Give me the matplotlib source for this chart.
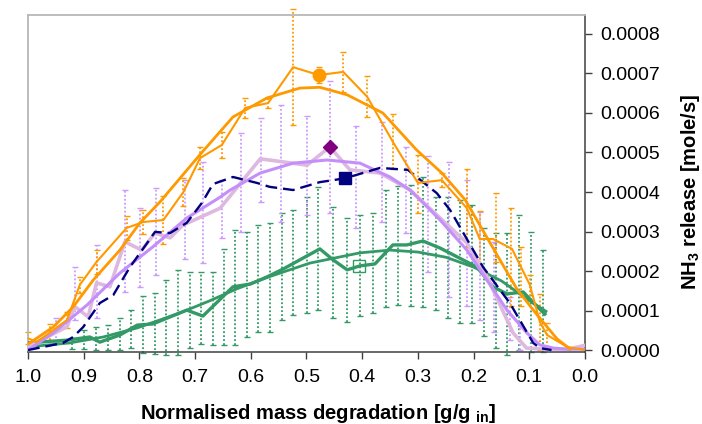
import numpy as np
import matplotlib
matplotlib.use("Agg")
import matplotlib.pyplot as plt
from matplotlib.ticker import FuncFormatter, MultipleLocator

plt.rcParams['font.family'] = ['Liberation Sans', 'DejaVu Sans']
plt.rcParams['mathtext.fontset'] = 'custom'
plt.rcParams['mathtext.rm'] = 'Liberation Sans'
plt.rcParams['mathtext.bf'] = 'Liberation Sans:bold'

U = 1e-4  # values below are in 1e-4 mole/s

# orange experiment (jagged) + trend
orange_x = [1.0, 0.985, 0.96, 0.930, 0.907, 0.877, 0.823, 0.793, 0.757, 0.721, 0.691, 0.652,
            0.610, 0.569, 0.524, 0.478, 0.434, 0.391, 0.345, 0.300, 0.257, 0.212, 0.189,
            0.165, 0.131, 0.099, 0.081, 0.068, 0.032, 0.0]
orange_y = [0.30, 0.20, 0.45, 0.76, 1.65, 2.23, 3.09, 3.24, 3.29, 4.00, 4.86, 5.19,
            6.13, 6.25, 7.16, 6.96, 7.04, 6.41, 5.27, 4.23, 4.30, 3.59, 2.81,
            2.81, 2.56, 1.65, 0.71, 0.38, 0.08, 0.0]
orange_err_x = [1.0, 0.96, 0.930, 0.907, 0.877, 0.823, 0.793, 0.757, 0.721, 0.691, 0.652, 0.610,
                0.569, 0.524, 0.478, 0.434, 0.391, 0.345, 0.300, 0.257, 0.212, 0.189,
                0.160, 0.133, 0.115, 0.099, 0.081, 0.068]
orange_err_c = [0.30, 0.45, 0.76, 1.65, 2.23, 3.09, 3.24, 3.29, 4.00, 4.86, 5.19, 6.13,
                6.25, 7.16, 6.96, 7.04, 6.41, 5.27, 4.21, 4.30, 3.59, 2.81,
                3.10, 2.35, 1.86, 1.58, 0.71, 0.38]
orange_err_e = [0.15, 0.2, 0.2, 0.2, 0.3, 0.3, 0.3, 0.6, 0.35, 0.28, 0.34, 0.26,
                0.12, 1.47, 0.2, 0.5, 0.52, 0.7, 0.73, 0.18, 0.98, 0.7,
                0.87, 1.24, 0.75, 0.32, 0.7, 0.3]
orange_fit_x = [1.0, 0.955, 0.919, 0.883, 0.835, 0.799, 0.763, 0.733, 0.691, 0.632, 0.571,
                0.512, 0.476, 0.427, 0.363, 0.302, 0.257, 0.215, 0.158, 0.122, 0.086,
                0.05, 0.027]
orange_fit_y = [0.15, 0.58, 1.09, 1.77, 2.53, 3.22, 3.75, 4.25, 4.95, 5.90, 6.38,
                6.63, 6.65, 6.46, 6.00, 5.06, 4.48, 3.80, 2.41, 1.54, 0.89,
                0.28, 0.03]

# purple experiment (jagged) + trend
pink_x = [1.0, 0.930, 0.916, 0.892, 0.877, 0.853, 0.826, 0.796, 0.772, 0.745, 0.722, 0.655,
          0.583, 0.499, 0.458, 0.422, 0.368, 0.314, 0.212, 0.176, 0.129, 0.105, 0.07,
          0.03, 0.0]
pink_y = [0.08, 0.59, 1.10, 0.84, 1.70, 1.60, 2.74, 2.53, 2.96, 2.84, 3.16, 3.59,
          4.84, 4.68, 5.14, 4.56, 4.48, 4.05, 2.71, 1.86, 0.43, 0.05, 0.02,
          0.02, 0.12]
lav_err_x = [0.95, 0.916, 0.876, 0.826, 0.799, 0.770, 0.718, 0.686, 0.652, 0.618, 0.582,
             0.545, 0.499, 0.458, 0.411, 0.365, 0.321, 0.281, 0.245, 0.212, 0.188,
             0.163, 0.135, 0.117]
lav_err_c = [0.5, 1.43, 1.73, 2.76, 2.60, 3.00, 3.30, 3.48, 3.57, 4.25, 4.81,
             4.72, 4.67, 5.14, 4.37, 4.51, 4.05, 3.44, 3.06, 2.71, 2.13,
             1.60, 0.80, 0.30]
lav_err_e = [0.3, 0.68, 0.92, 1.28, 1.0, 1.1, 1.0, 1.28, 0.74, 1.25, 1.06,
             1.47, 1.25, 1.67, 1.29, 1.27, 1.10, 1.46, 1.71, 1.60, 1.37,
             1.14, 0.55, 0.30]
lav_fit_x = [1.0, 0.955, 0.894, 0.835, 0.776, 0.715, 0.655, 0.637, 0.583, 0.524, 0.463,
             0.404, 0.350, 0.314, 0.296, 0.260, 0.212, 0.176, 0.140, 0.104, 0.081,
             0.057, 0.03, 0.0]
lav_fit_y = [0.0, 0.43, 1.14, 1.95, 2.61, 3.34, 3.87, 4.05, 4.48, 4.73, 4.81,
             4.73, 4.38, 4.05, 3.80, 3.29, 2.53, 1.77, 1.01, 0.43, 0.13,
             0.05, 0.02, 0.02]

# navy experiment
navy_x = [1.0, 0.937, 0.919, 0.901, 0.871, 0.847, 0.817, 0.786, 0.772, 0.745, 0.715, 0.688,
          0.668, 0.632, 0.589, 0.566, 0.524, 0.476, 0.452, 0.430, 0.368, 0.318, 0.266,
          0.242, 0.183, 0.135, 0.093, 0.081, 0.06]
navy_y = [0.0, 0.18, 0.33, 0.58, 1.19, 1.39, 2.10, 2.71, 2.99, 2.96, 3.22, 3.72,
          4.20, 4.38, 4.23, 4.13, 4.05, 4.25, 4.30, 4.35, 4.61, 4.56, 3.97,
          3.54, 2.10, 1.19, 0.18, 0.05, 0.0]

# green experiment (jagged) + trend
green_x = [1.0, 0.930, 0.889, 0.871, 0.835, 0.804, 0.776, 0.715, 0.686, 0.632, 0.601, 0.571,
           0.542, 0.476, 0.452, 0.427, 0.404, 0.377, 0.345, 0.320, 0.291, 0.260, 0.194,
           0.165, 0.140, 0.111, 0.090, 0.072]
green_y = [0.18, 0.25, 0.33, 0.20, 0.38, 0.63, 0.66, 1.01, 0.86, 1.60, 1.67, 1.85,
           2.05, 2.56, 2.28, 2.03, 2.13, 2.18, 2.66, 2.66, 2.76, 2.58, 2.10,
           1.60, 1.42, 1.47, 1.16, 0.91]
green_fit_x = [1.0, 0.925, 0.865, 0.804, 0.727, 0.673, 0.625, 0.566, 0.494, 0.404, 0.35,
               0.30, 0.25, 0.2, 0.15, 0.1, 0.07]
green_fit_y = [0.08, 0.18, 0.33, 0.56, 0.94, 1.25, 1.55, 1.86, 2.20, 2.46, 2.53,
               2.48, 2.35, 2.10, 1.75, 1.25, 0.98]
green_err_x = [0.921, 0.90, 0.878, 0.856, 0.835, 0.815, 0.794, 0.772, 0.752, 0.731, 0.709,
               0.689, 0.668, 0.648, 0.628, 0.607, 0.587, 0.566, 0.544, 0.524, 0.499,
               0.479, 0.452, 0.427, 0.404, 0.381, 0.357, 0.336, 0.312, 0.291, 0.267,
               0.246, 0.224, 0.203, 0.181, 0.160, 0.140, 0.118, 0.097, 0.075]
green_err_hi = [0.30, 0.51, 0.58, 0.63, 0.81, 1.01, 1.37, 1.44, 1.77, 2.03, 1.97,
                1.97, 1.97, 2.56, 3.04, 2.99, 3.16, 3.22, 3.47, 3.54, 3.87,
                4.13, 3.62, 3.34, 3.42, 3.47, 4.05, 4.15, 4.18, 4.38, 3.87,
                3.87, 3.80, 3.67, 3.09, 2.96, 2.96, 3.42, 2.99, 2.53]
green_err_lo = [0.03, 0.03, 0.0, 0.0, 0.0, 0.05, -0.08, -0.10, -0.13, -0.13, 0.05,
                0.15, 0.13, 0.13, 0.13, 0.33, 0.46, 0.46, 0.76, 0.89, 0.94,
                1.01, 0.81, 0.71, 0.86, 0.94, 1.09, 1.14, 1.11, 1.09, 1.01,
                0.81, 0.68, 0.68, 0.35, 0.05, -0.13, 0.0, -0.05, -0.05]

# highlighted single points
pt_circle = (0.478, 6.96)
pt_diamond = (0.457, 5.15)
pt_square = (0.430, 4.35)
pt_open_square = (0.405, 2.13)

c_orange = '#FF9900'
c_lav = '#C58FFA'
c_pink = '#DDB8E0'
c_navy = '#000080'
c_green = '#339966'
c_purple = '#800080'

fig = plt.figure(figsize=(7.02, 4.24), dpi=100)
ax = fig.add_axes([0.0399, 0.1698, 0.7934, 0.7948])


def errbars(x, c, e, color):
    eb = ax.errorbar(x, np.array(c) * U, yerr=np.array(e) * U, fmt='none', ecolor=color,
                     elinewidth=1.3, capsize=2.5, capthick=1.0, zorder=1)
    eb.lines[2][0].set_linestyle((0, (1, 1.2)))
    for cap in eb.lines[1]:
        cap.set_clip_on(False)
    eb.lines[2][0].set_clip_on(False)


g_lo = np.array(green_err_lo)
g_hi = np.array(green_err_hi)
errbars(green_err_x, (g_lo + g_hi) / 2, (g_hi - g_lo) / 2, c_green)
errbars(lav_err_x, lav_err_c, lav_err_e, '#CC99FF')
errbars(orange_err_x, orange_err_c, orange_err_e, c_orange)

ax.plot(green_fit_x, np.array(green_fit_y) * U, color=c_green, lw=2.0, zorder=3)
ax.plot(green_x, np.array(green_y) * U, color=c_green, lw=2.4, zorder=3)
ax.plot(pink_x, np.array(pink_y) * U, color=c_pink, lw=2.6, zorder=3)
ax.plot(lav_fit_x, np.array(lav_fit_y) * U, color=c_lav, lw=2.2, zorder=4)
ax.plot(navy_x, np.array(navy_y) * U, color=c_navy, lw=1.7, dashes=(5, 2.5), zorder=4)
ax.plot(orange_fit_x, np.array(orange_fit_y) * U, color=c_orange, lw=2.0, zorder=4)
ax.plot(orange_x, np.array(orange_y) * U, color=c_orange, lw=1.5, zorder=5)

ax.plot(pt_circle[0], pt_circle[1] * U, 'o', color=c_orange, ms=9, zorder=6)
ax.plot(pt_diamond[0], pt_diamond[1] * U, 'D', color=c_purple, ms=7.5, zorder=6)
ax.plot(pt_square[0], pt_square[1] * U, 's', color=c_navy, ms=9, zorder=6)
ax.plot(pt_open_square[0], pt_open_square[1] * U, 's', mfc='none', mec=c_green,
        mew=1.0, ms=8.5, zorder=6)

ax.set_xlim(1.0, 0.0)
ax.set_ylim(-0.05 * U, 8.48 * U)
ax.xaxis.set_major_locator(MultipleLocator(0.1))
ax.yaxis.set_major_locator(MultipleLocator(1 * U))
ax.xaxis.set_major_formatter(FuncFormatter(lambda v, p: f"{v:.1f}"))
ax.yaxis.set_major_formatter(FuncFormatter(lambda v, p: f"{v:.4f}"))

ax.yaxis.tick_right()
ax.tick_params(axis='x', direction='out', length=5, width=1, color='#404040',
               labelsize=14, pad=7)
ax.tick_params(axis='y', direction='out', length=5, width=1, color='#404040',
               labelsize=14, pad=6)

for s in ['left', 'top']:
    ax.spines[s].set_color('#b8b8b8')
    ax.spines[s].set_linewidth(1.3)
for s in ['right', 'bottom']:
    ax.spines[s].set_color('#404040')
    ax.spines[s].set_linewidth(1.1)

# axis titles placed like the original (not centred on the axes)
fig.text(318.5 / 702, 1 - 419 / 424, r'Normalised mass degradation [g/g $_\mathbf{in}$]',
         fontsize=14.5, fontweight='bold', ha='center', va='baseline')
fig.text(690 / 702, 1 - 192 / 424, r'NH$_\mathbf{3}$ release [mole/s]', fontsize=14.5,
         fontweight='bold', rotation=90, ha='center', va='center')

fig.savefig('out.png', dpi=100)
